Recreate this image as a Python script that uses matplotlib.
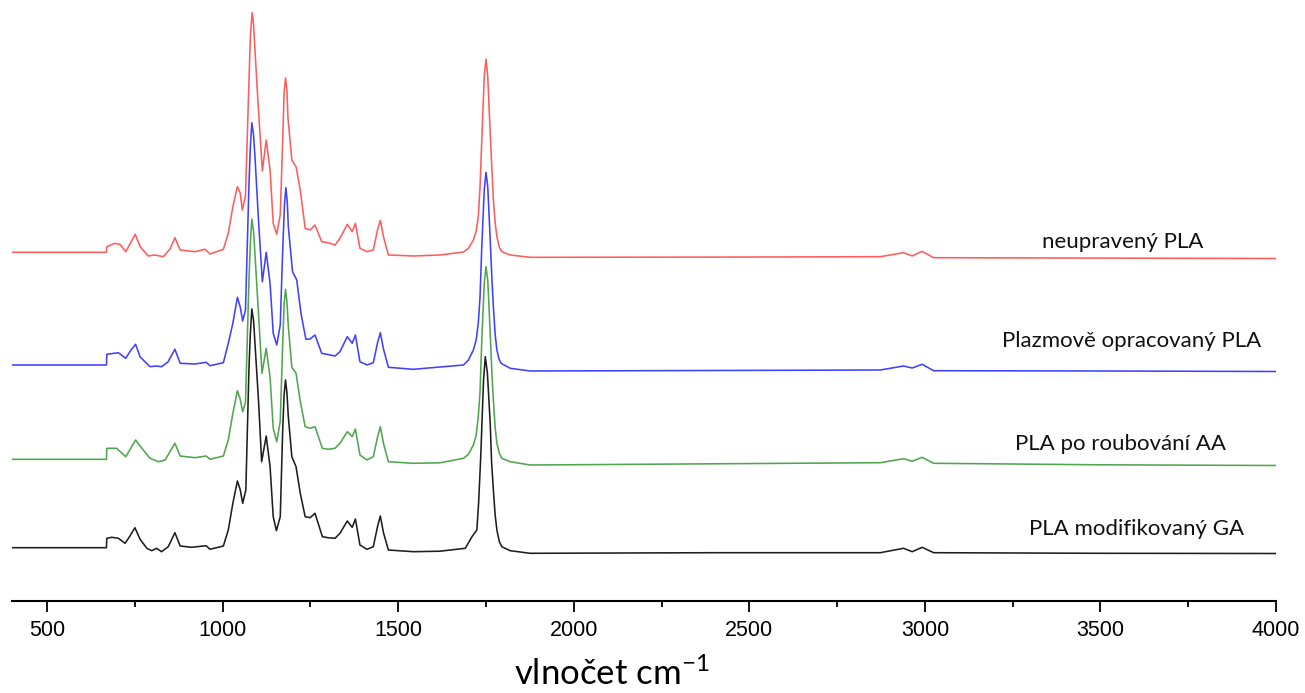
import matplotlib
matplotlib.use("Agg")
import matplotlib.pyplot as plt
from matplotlib.ticker import MultipleLocator

plt.rcParams['mathtext.fontset'] = 'custom'
plt.rcParams['mathtext.rm'] = 'Lato'
plt.rcParams['mathtext.it'] = 'Lato'

# ---------------- data (wavenumber cm-1, relative intensity a.u.) ----------------
series_names = ["neupravený PLA", "Plazmově opracovaný PLA",
                "PLA po roubování AA", "PLA modifikovaný GA"]

red_wn = [400, 669, 670, 693, 708, 724, 739, 751, 765, 788,
          807, 831, 850, 864, 879, 921, 950, 964, 1002, 1016,
          1029, 1042, 1050, 1056, 1065, 1075, 1079, 1084, 1088, 1092,
          1102, 1113, 1124, 1135, 1144, 1154, 1164, 1171, 1175, 1179,
          1183, 1186, 1197, 1209, 1221, 1235, 1249, 1263, 1282, 1300,
          1320, 1334, 1355, 1369, 1378, 1391, 1411, 1429, 1441, 1449,
          1458, 1472, 1543, 1619, 1686, 1700, 1714, 1722, 1728, 1733,
          1738, 1745, 1750, 1755, 1762, 1767, 1771, 1776, 1781, 1788,
          1795, 1819, 1876, 2400, 2873, 2939, 2964, 2992, 3025, 3500,
          4000]
red_int = [0, 0, 0.056, 0.09, 0.078, 0.006, 0.103, 0.18, 0.056, -0.037,
           -0.027, -0.044, 0.033, 0.146, 0.023, 0.006, 0.03, -0.017, 0.03, 0.19,
           0.456, 0.656, 0.593, 0.423, 0.563, 1.723, 2.17, 2.396, 2.28, 2.023,
           1.423, 0.813, 1.123, 0.823, 0.29, 0.18, 0.373, 1.123, 1.6, 1.743,
           1.62, 1.343, 0.923, 0.856, 0.623, 0.24, 0.223, 0.273, 0.106, 0.096,
           0.073, 0.14, 0.28, 0.206, 0.29, 0.04, 0.006, 0.023, 0.223, 0.32,
           0.156, -0.027, -0.037, -0.027, 0.003, 0.04, 0.123, 0.21, 0.356, 0.65,
           1.123, 1.756, 1.933, 1.756, 1.19, 0.82, 0.523, 0.3, 0.156, 0.05,
           0.006, -0.027, -0.05, -0.048, -0.044, -0.004, -0.037, 0.01, -0.054, -0.058,
           -0.062]

blue_wn = [400, 669, 670, 703, 724, 739, 752, 765, 793, 810,
           826, 844, 864, 879, 921, 953, 964, 1002, 1016, 1029,
           1042, 1050, 1057, 1065, 1075, 1079, 1083, 1088, 1092, 1102,
           1113, 1124, 1135, 1144, 1154, 1164, 1171, 1176, 1180, 1184,
           1187, 1199, 1211, 1223, 1237, 1249, 1263, 1282, 1300, 1320,
           1334, 1355, 1369, 1378, 1391, 1411, 1429, 1441, 1449, 1458,
           1472, 1543, 1686, 1700, 1714, 1722, 1728, 1733, 1738, 1745,
           1750, 1755, 1762, 1767, 1771, 1776, 1781, 1787, 1793, 1819,
           1876, 2400, 2873, 2939, 2964, 2992, 3025, 3500, 4000]
blue_int = [0, 0, 0.107, 0.123, 0.067, 0.15, 0.207, 0.08, -0.017, -0.01,
            -0.017, 0.03, 0.157, 0.017, 0.01, 0.027, -0.007, 0.023, 0.217, 0.417,
            0.677, 0.58, 0.44, 0.55, 1.817, 2.19, 2.423, 2.3, 2.083, 1.45,
            0.833, 1.127, 0.817, 0.317, 0.2, 0.4, 1.15, 1.6, 1.773, 1.63,
            1.383, 0.933, 0.85, 0.517, 0.257, 0.26, 0.3, 0.117, 0.105, 0.09,
            0.133, 0.283, 0.217, 0.3, 0.033, 0.0, 0.023, 0.22, 0.323, 0.16,
            -0.023, -0.043, 0.0, 0.05, 0.15, 0.25, 0.417, 0.68, 1.183, 1.75,
            1.927, 1.783, 1.25, 0.85, 0.583, 0.31, 0.15, 0.06, 0.017, -0.033,
            -0.06, -0.055, -0.05, -0.01, -0.03, 0.007, -0.057, -0.06, -0.065]

green_wn = [400, 669, 670, 698, 724, 752, 770, 793, 817, 836,
            864, 879, 921, 953, 964, 1002, 1016, 1029, 1042, 1050,
            1057, 1065, 1075, 1079, 1083, 1088, 1092, 1102, 1112, 1124,
            1135, 1144, 1154, 1164, 1171, 1175, 1179, 1183, 1187, 1197,
            1209, 1221, 1235, 1249, 1263, 1284, 1300, 1320, 1334, 1355,
            1369, 1378, 1391, 1411, 1429, 1441, 1449, 1458, 1472, 1543,
            1619, 1686, 1700, 1714, 1722, 1728, 1733, 1738, 1745, 1750,
            1755, 1762, 1767, 1771, 1776, 1781, 1788, 1795, 1819, 1876,
            2400, 2873, 2939, 2964, 2992, 3025, 3500, 4000]
green_int = [0, 0, 0.11, 0.11, 0.026, 0.193, 0.11, 0.01, -0.024, -0.007,
             0.16, 0.033, 0.016, 0.033, 0.0, 0.033, 0.193, 0.46, 0.686, 0.6,
             0.476, 0.57, 1.8, 2.17, 2.403, 2.28, 2.05, 1.46, 0.86, 1.11,
             0.82, 0.31, 0.176, 0.38, 1.15, 1.55, 1.7, 1.58, 1.33, 0.92,
             0.86, 0.58, 0.326, 0.31, 0.326, 0.11, 0.1, 0.11, 0.16, 0.276,
             0.226, 0.303, 0.043, -0.007, 0.026, 0.22, 0.326, 0.16, -0.024, -0.04,
             -0.035, 0.01, 0.05, 0.143, 0.24, 0.426, 0.67, 1.193, 1.76, 1.926,
             1.793, 1.26, 0.85, 0.593, 0.32, 0.16, 0.06, 0.01, -0.024, -0.057,
             -0.045, -0.034, 0.006, -0.02, 0.02, -0.04, -0.055, -0.062]

black_wn = [400, 669, 670, 684, 703, 722, 736, 750, 765, 784,
            798, 812, 826, 845, 864, 879, 912, 953, 964, 1002,
            1016, 1029, 1042, 1050, 1057, 1066, 1075, 1079, 1083, 1088,
            1092, 1102, 1111, 1124, 1135, 1144, 1153, 1164, 1171, 1175,
            1179, 1183, 1187, 1197, 1209, 1221, 1235, 1249, 1263, 1284,
            1300, 1320, 1334, 1355, 1369, 1378, 1391, 1411, 1429, 1441,
            1449, 1458, 1472, 1543, 1619, 1691, 1710, 1724, 1729, 1735,
            1743, 1748, 1754, 1762, 1766, 1771, 1776, 1781, 1788, 1795,
            1819, 1876, 2400, 2873, 2939, 2964, 2992, 3025, 3500, 4000]
black_int = [0, 0, 0.094, 0.104, 0.094, 0.044, 0.117, 0.2, 0.084, -0.006,
             -0.03, -0.006, -0.04, 0.01, 0.15, 0.017, 0.004, 0.02, -0.016, 0.017,
             0.177, 0.444, 0.667, 0.58, 0.444, 0.577, 1.81, 2.15, 2.387, 2.27,
             2.044, 1.477, 0.86, 1.117, 0.81, 0.31, 0.17, 0.31, 1.177, 1.53,
             1.677, 1.55, 1.31, 0.91, 0.81, 0.544, 0.31, 0.3, 0.344, 0.11,
             0.1, 0.094, 0.144, 0.267, 0.204, 0.287, 0.027, -0.016, 0.01, 0.21,
             0.317, 0.15, -0.023, -0.04, -0.035, -0.006, 0.11, 0.177, 0.45, 0.91,
             1.677, 1.91, 1.744, 1.244, 0.85, 0.577, 0.33, 0.177, 0.06, 0.01,
             -0.03, -0.056, -0.05, -0.05, -0.006, -0.04, 0.004, -0.05, -0.056, -0.058]

x_ticks = [500, 1000, 1500, 2000, 2500, 3000, 3500, 4000]

# ---------------- layout / style ----------------
offsets = [3.487, 2.36, 1.417, 0.533]
colors = ['#ff5c5c', '#4040ff', '#4fa64f', '#1e1e1e']
label_pos = [(3562, 3.59), (3588, 2.60), (3557, 1.57), (3602, 0.72)]

fig = plt.figure(figsize=(13.05, 6.93), dpi=100)
ax = fig.add_axes([12 / 1305, 92 / 693, 1264 / 1305, 601 / 693])

data = [(red_wn, red_int), (blue_wn, blue_int),
        (green_wn, green_int), (black_wn, black_int)]
for (wn, it), off, c in zip(data, offsets, colors):
    ax.plot(wn, [v + off for v in it], color=c, lw=1.15,
            solid_joinstyle='round')

for name, (lx, ly) in zip(series_names, label_pos):
    ax.text(lx, ly, name, ha='center', va='center', fontsize=16,
            family='Lato', color='#111111')

ax.set_xlim(400, 4000)
ax.set_ylim(0, 6.01)
for s in ['left', 'right', 'top']:
    ax.spines[s].set_visible(False)
ax.spines['bottom'].set_linewidth(1.5)
ax.set_yticks([])
ax.set_xticks(x_ticks)
ax.xaxis.set_minor_locator(MultipleLocator(250))
ax.tick_params(axis='x', which='major', length=8, width=1.3, direction='out',
               labelsize=15.5, pad=6)
ax.tick_params(axis='x', which='minor', length=4.5, width=1.3, direction='out')
for lab in ax.get_xticklabels():
    lab.set_family('Liberation Sans')

ax.set_xlabel(r'vlnočet cm$^{\mathrm{-1}}$', fontsize=25, family='Lato',
              va='center')
ax.xaxis.set_label_coords((612 - 12) / 1264, (601 - 674) / 601)

fig.savefig('out.png', dpi=100)
